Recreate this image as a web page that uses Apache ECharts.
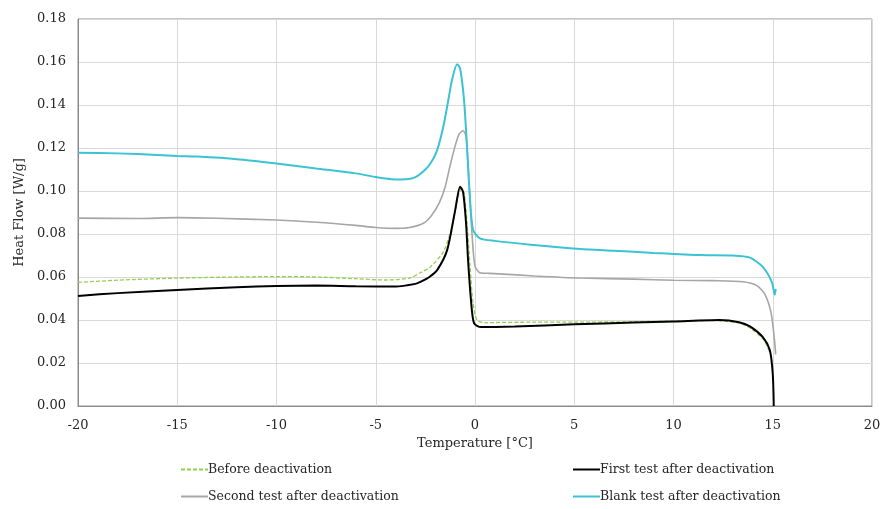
<!DOCTYPE html>
<html>
<head>
<meta charset="utf-8">
<script src="https://cdn.jsdelivr.net/npm/echarts@6/dist/echarts.min.js"></script>
<style>
  html, body { margin: 0; padding: 0; background: #fff; }
  #chart { width: 885px; height: 509px; }
</style>
</head>
<body>
<div id="chart"></div>
<script>
// [temperature °C, heat flow W/g]
var beforeData = [[-20,0.0575],[-18,0.0585],[-15,0.0595],[-12,0.0600],[-10,0.0602],[-8,0.0600],[-6,0.0592],[-4.5,0.0586],
  [-3.3,0.0595],[-2.75,0.0620],[-2.25,0.0647],[-1.6,0.0716],[-1.2,0.0820],[-0.9,0.0950],[-0.7,0.1010],[-0.55,0.0990],
  [-0.4,0.0850],[-0.25,0.0650],[-0.1,0.0480],[0.1,0.0400],[0.5,0.0388],[3,0.0390],[5,0.0390],[8,0.0392],[10,0.0395],
  [12,0.0397],[13.3,0.0386],[13.85,0.0363],[14.5,0.0313],[14.85,0.0250]];
var firstData = [[-20,0.0512],[-18,0.0525],[-15,0.0540],[-12,0.0552],[-10,0.0558],[-8,0.0560],[-6,0.0557],[-4,0.0556],
  [-3,0.0568],[-2.75,0.0577],[-2.3,0.0600],[-1.9,0.0633],[-1.4,0.0726],[-1.0,0.0910],[-0.75,0.1020],[-0.6,0.0995],
  [-0.45,0.0850],[-0.35,0.0680],[-0.2,0.0490],[-0.05,0.0385],[0.3,0.0367],[2,0.0370],[5,0.0380],[8,0.0388],[10,0.0393],
  [12.3,0.0400],[13.3,0.0390],[13.85,0.0370],[14.5,0.0320],[14.85,0.0260],[15.0,0.0150],[15.05,0.0000]];
var secondData = [[-20,0.0874],[-17,0.0872],[-15,0.0876],[-13,0.0873],[-10,0.0865],[-8,0.0855],[-6,0.0840],[-5,0.0830],
  [-4,0.0826],[-3.3,0.0830],[-2.6,0.0850],[-2.2,0.0885],[-1.8,0.0945],[-1.5,0.1020],[-1.25,0.1120],[-1.0,0.1210],
  [-0.8,0.1265],[-0.6,0.1280],[-0.45,0.1255],[-0.35,0.1120],[-0.15,0.0800],[0,0.0650],[0.25,0.0620],[0.75,0.0617],
  [3,0.0605],[5.3,0.0595],[8,0.0590],[10,0.0585],[12,0.0583],[13.5,0.0578],[14.2,0.0560],[14.6,0.0520],[14.9,0.0440],
  [15.05,0.0340],[15.15,0.0240]];
var blankData = [[-20,0.1178],[-18,0.1175],[-16,0.1168],[-15,0.1163],[-14,0.1160],[-12,0.1148],[-10,0.1128],[-8,0.1105],
  [-6,0.1082],[-5,0.1065],[-4.5,0.1058],[-4,0.1054],[-3.5,0.1055],[-3,0.1065],[-2.5,0.1100],[-2.2,0.1135],[-1.95,0.1180],
  [-1.75,0.1240],[-1.55,0.1320],[-1.35,0.1420],[-1.15,0.1520],[-0.9,0.1590],[-0.75,0.1570],[-0.55,0.1420],[-0.4,0.1200],
  [-0.25,0.0960],[-0.1,0.0820],[0.25,0.0780],[1,0.0768],[2.8,0.0750],[5.3,0.0730],[7,0.0722],[9,0.0712],[11.3,0.0702],
  [13,0.0700],[13.85,0.0690],[14.5,0.0647],[14.95,0.0577],[15.1,0.0518],[15.15,0.0545]];
var yTicks = [0, 0.02, 0.04, 0.06, 0.08, 0.10, 0.12, 0.14, 0.16, 0.18];

var font = 'DejaVu Serif';
var txt = '#262626';
var chart = echarts.init(document.getElementById('chart'));

function line(name, data, color, width, type) {
  return {
    name: name,
    type: 'line',
    data: data,
    symbol: 'none',
    smooth: 0.25,
    lineStyle: { color: color, width: width, type: type || 'solid' },
    itemStyle: { color: color },
    animation: false
  };
}

var legendText = { fontFamily: font, fontSize: 12.5, color: txt, padding: [0, 0, 0, -5] };

chart.setOption({
  backgroundColor: '#fff',
  textStyle: { fontFamily: font },
  grid: { left: 78, right: 13, top: 19, bottom: 103, show: true, borderColor: '#8c8c8c', borderWidth: 1 },
  xAxis: {
    type: 'value', min: -20, max: 20, interval: 5,
    name: 'Temperature [°C]', nameLocation: 'middle', nameGap: 31,
    nameTextStyle: { fontFamily: font, fontSize: 13, color: txt },
    axisLine: { onZero: false, lineStyle: { color: '#8c8c8c' } },
    axisTick: { show: false },
    axisLabel: { fontFamily: font, fontSize: 13, color: txt, margin: 13 },
    splitLine: { lineStyle: { color: '#d9d9d9' } }
  },
  yAxis: {
    type: 'value', min: 0, max: 0.18, interval: 0.02,
    name: 'Heat Flow [W/g]', nameLocation: 'middle', nameGap: 47,
    nameTextStyle: { fontFamily: font, fontSize: 13, color: txt },
    axisLine: { show: true, onZero: false, lineStyle: { color: '#8c8c8c' } },
    axisTick: { show: false },
    axisLabel: {
      fontFamily: font, fontSize: 13, color: txt, margin: 12,
      formatter: function (v) { return v.toFixed(2); }
    },
    splitLine: { lineStyle: { color: '#d9d9d9' } }
  },
  legend: [{
    data: ['Before deactivation', 'Second test after deactivation'],
    orient: 'vertical', left: 180, top: 463, padding: 0, itemGap: 14,
    itemWidth: 27, itemHeight: 10,
    itemStyle: { opacity: 0 },
    textStyle: legendText
  }, {
    data: ['First test after deactivation', 'Blank test after deactivation'],
    orient: 'vertical', left: 572, top: 463, padding: 0, itemGap: 14,
    itemWidth: 27, itemHeight: 10,
    itemStyle: { opacity: 0 },
    textStyle: legendText
  }],
  series: [
    line('Before deactivation', beforeData, '#92d050', 1.3, [4, 2]),
    line('First test after deactivation', firstData, '#000000', 2),
    line('Second test after deactivation', secondData, '#a6a6a6', 1.6),
    line('Blank test after deactivation', blankData, '#3cc3d3', 2)
  ]
});
</script>
</body>
</html>
